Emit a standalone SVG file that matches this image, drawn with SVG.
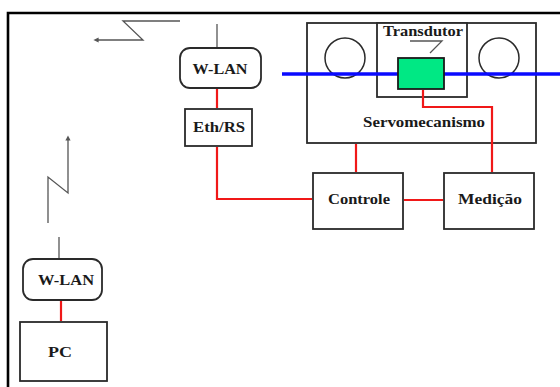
<svg xmlns="http://www.w3.org/2000/svg" width="560" height="387" viewBox="0 0 560 387">
<defs>
<style>
.box{fill:#fff;stroke:#2a2a2a;stroke-width:1.8}
.lbl{font-family:"Liberation Serif","Times New Roman",serif;font-weight:bold;font-size:14px;fill:#1a1a1a;text-anchor:middle}
.red{fill:none;stroke:#f01818;stroke-width:2.2}
.wire{fill:none;stroke:#555;stroke-width:1.3}
</style>
<marker id="ah" viewBox="0 0 6 6" refX="3" refY="3" markerWidth="4" markerHeight="4" orient="auto"><path d="M0,0 L6,3 L0,6 z" fill="#555"/></marker>
</defs>
<rect width="560" height="387" fill="#fff"/>
<path d="M8,387 V13 H560" fill="none" stroke="#000" stroke-width="2.6"/>

<g id="servomecanismo">
<rect class="box" x="307" y="23" width="229" height="120"/>
<rect class="box" x="377" y="23" width="90" height="74"/>
<circle cx="345" cy="58" r="20" fill="#fff" stroke="#2a2a2a" stroke-width="1.5"/>
<circle cx="499" cy="58" r="20" fill="#fff" stroke="#2a2a2a" stroke-width="1.5"/>
<text class="lbl" x="424" y="127" textLength="122" lengthAdjust="spacingAndGlyphs">Servomecanismo</text>
<text class="lbl" x="423" y="36" textLength="80" lengthAdjust="spacingAndGlyphs">Transdutor</text>
</g>

<g id="shaft">
<line x1="282" y1="74" x2="560" y2="74" stroke="#0a0aff" stroke-width="3.5"/>
</g>

<g id="transdutor">
<rect x="398" y="58" width="46" height="31" fill="#00e884" stroke="#1a1a1a" stroke-width="1.8"/>
</g>

<g id="wlan-top">
<rect class="box" x="180" y="48" width="81" height="40" rx="10"/>
<text class="lbl" x="220" y="74" textLength="55" lengthAdjust="spacingAndGlyphs">W-LAN</text>
</g>

<g id="ethrs">
<rect class="box" x="185" y="109" width="67" height="37"/>
<text class="lbl" x="219" y="132" textLength="52" lengthAdjust="spacingAndGlyphs">Eth/RS</text>
</g>

<g id="controle">
<rect class="box" x="313" y="173" width="90" height="56"/>
<text class="lbl" x="359" y="204" textLength="62" lengthAdjust="spacingAndGlyphs">Controle</text>
</g>

<g id="medicao">
<rect class="box" x="444" y="173" width="90" height="56"/>
<text class="lbl" x="490" y="204" textLength="64" lengthAdjust="spacingAndGlyphs">Medição</text>
</g>

<g id="wlan-bottom">
<rect class="box" x="23" y="259" width="79" height="41" rx="10"/>
<text class="lbl" x="66" y="285" textLength="56" lengthAdjust="spacingAndGlyphs">W-LAN</text>
</g>

<g id="pc">
<rect class="box" x="20" y="322" width="87" height="59"/>
<text class="lbl" x="60" y="357" textLength="24" lengthAdjust="spacingAndGlyphs">PC</text>
</g>

<g id="connectors">
<path class="wire" d="M180,21 H123 L143,40 H96" marker-end="url(#ah)"/>
<path class="wire" d="M48,223 V177 L68,193 V138" marker-end="url(#ah)"/>
<path class="wire" d="M217,24 V47"/>
<path class="wire" d="M59,237 V258"/>
<path class="red" d="M217,89 V108"/>
<path class="red" d="M217,147 V199 H312"/>
<path class="red" d="M61,301 V321"/>
<path class="red" d="M356,144 V172"/>
<path class="red" d="M404,200 H443"/>
<path class="red" d="M423,90 V107 H492 V172"/>
<path class="wire" d="M410,41 H442 L430,53" stroke-width="1.1"/>
</g>
</svg>
